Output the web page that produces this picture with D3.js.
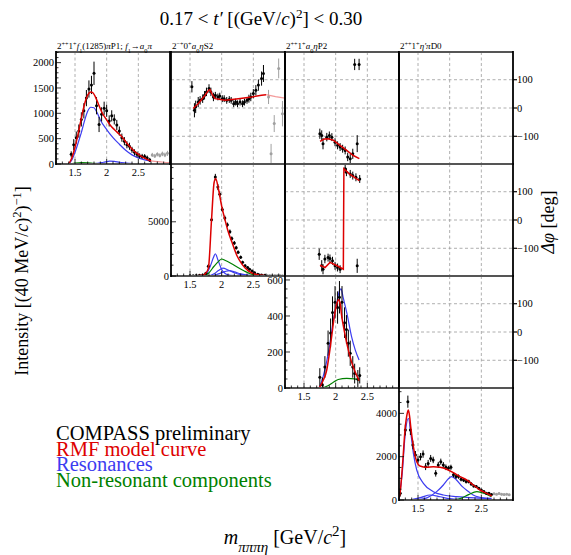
<!DOCTYPE html>
<html>
<head>
<meta charset="utf-8">
<script src="https://cdn.jsdelivr.net/npm/d3@7"></script>
<style>
  body { margin: 0; background: #fff; }
  svg text { font-family: "Liberation Serif", "Times New Roman", "DejaVu Serif", serif; }
</style>
</head>
<body>
<svg id="chart" width="571" height="555"></svg>
<script>
// ---- data ----
const xTicks = [1.5, 2, 2.5];
const xTickLabels = ["1.5", "2", "2.5"];
const phaseTicks = [-100, 0, 100];
const phaseTickLabels = ["100", "0", "\u2212100"];

// 2++1+ f1(1285) pi P1 intensity
const p1Mass = [1.44,1.48,1.52,1.56,1.60,1.64,1.68,1.72,1.76,1.80,1.84,1.88,1.92,1.96,2.00,2.04,2.08,2.12,2.16,2.20,2.24,2.28,2.32,2.36,2.40,2.44,2.48,2.52,2.56,2.60,2.64,2.68];
const p1Int  = [190,380,520,650,880,1050,1300,1480,1560,1790,1150,780,980,1100,1050,850,950,880,770,650,520,450,380,350,280,230,190,160,150,150,120,80];
const p1Err  = [60,110,120,130,140,150,160,170,180,230,170,150,140,130,120,110,110,100,100,90,80,80,70,70,60,60,55,50,50,45,45,40];
const p1GrayMass = [2.72,2.76,2.80,2.84,2.88,2.92,2.96];
const p1GrayInt  = [180,160,190,170,200,180,210];
const p1GrayErr  = [40,40,40,40,45,45,50];
const p1Model = [[1.40,0],[1.45,120],[1.50,330],[1.55,600],[1.60,900],[1.65,1180],[1.70,1360],[1.75,1420],[1.78,1410],[1.82,1330],[1.87,1180],[1.92,1030],[2.00,870],[2.06,760],[2.12,680],[2.18,610],[2.24,540],[2.30,440],[2.36,350],[2.42,270],[2.48,210],[2.55,150],[2.62,100],[2.70,60]];
const p1ModelExt = [[2.70,60],[2.80,45],[2.90,35],[3.00,30]];
const p1Res = [
  [[1.40,0],[1.45,80],[1.50,230],[1.55,420],[1.60,620],[1.65,850],[1.70,1040],[1.75,1120],[1.80,1110],[1.85,1010],[1.90,870],[2.00,680],[2.10,520],[2.20,390],[2.30,270],[2.40,180],[2.50,120],[2.60,80],[2.70,55]],
  [[1.70,0],[1.85,15],[1.95,35],[2.05,55],[2.12,50],[2.20,35],[2.35,15],[2.50,5],[2.70,2]]
];
const p1NonRes = [[1.40,0],[1.50,20],[1.60,30],[1.70,25],[1.80,15],[1.90,8],[2.00,5],[2.20,2],[2.70,0]];

// 2-+0+ a0 eta S2 intensity
const p2Mass = [1.50,1.55,1.60,1.65,1.70,1.75,1.79,1.84,1.90,1.94,1.97,2.01,2.05,2.09,2.13,2.16,2.20,2.23,2.26,2.30,2.33,2.37,2.41,2.44,2.48,2.52,2.57,2.63,2.68];
const p2Int  = [20,30,40,60,90,250,900,5190,9120,8200,7550,6130,5350,4720,4090,3460,3050,2610,2200,1730,1260,950,790,630,470,310,160,100,60];
const p2Err  = [40,40,50,60,70,100,200,250,300,280,260,240,220,210,200,190,180,170,160,150,140,130,120,110,100,90,80,70,60];
const p2GrayMass = [2.72,2.76,2.80,2.84,2.88,2.92,2.96];
const p2GrayInt  = [50,40,45,40,35,40,30];
const p2GrayErr  = [40,40,40,40,40,40,40];
const p2Model = [[1.50,0],[1.70,60],[1.74,200],[1.79,700],[1.84,5190],[1.88,8600],[1.905,9000],[1.95,8000],[2.00,6450],[2.05,5250],[2.10,4150],[2.16,3150],[2.24,1890],[2.32,1100],[2.42,470],[2.53,160],[2.68,40]];
const p2ModelExt = [[2.68,40],[2.80,10],[3.00,0]];
const p2Res = [
  [[1.70,0],[1.76,200],[1.82,900],[1.87,1700],[1.90,2050],[1.94,1500],[2.00,600],[2.05,250],[2.10,100],[2.20,30],[2.40,0]],
  [[1.80,0],[1.88,200],[1.95,500],[2.02,720],[2.10,550],[2.20,300],[2.30,120],[2.45,20],[2.60,0]],
  [[1.85,0],[1.95,200],[2.05,400],[2.12,500],[2.20,380],[2.30,200],[2.45,60],[2.60,0]]
];
const p2NonRes = [[1.72,0],[1.80,300],[1.88,900],[1.95,1350],[2.00,1570],[2.05,1450],[2.15,1150],[2.25,800],[2.35,480],[2.47,160],[2.60,40],[2.70,10]];

// 2++1+ a0 eta P2 intensity
const p3Mass = [1.75,1.79,1.83,1.88,1.92,1.95,1.99,2.03,2.06,2.10,2.14,2.17,2.20,2.23,2.27,2.30,2.35,2.38];
const p3Int  = [60,18,117,249,306,419,476,447,504,476,363,325,249,193,117,80,50,70];
const p3Err  = [50,40,60,70,80,90,90,90,90,90,85,80,75,70,60,55,50,45];
const p3Model = [[1.74,0],[1.80,40],[1.858,98],[1.90,190],[1.937,287],[1.98,400],[2.02,470],[2.045,490],[2.07,470],[2.095,400],[2.14,310],[2.175,249],[2.25,145],[2.32,79],[2.37,41]];
const p3Res = [
  [[1.74,0],[1.80,60],[1.86,150],[1.91,249],[1.96,370],[2.02,476],[2.06,540],[2.085,551],[2.12,500],[2.175,419],[2.25,287],[2.31,210],[2.37,155]]
];
const p3NonRes = [[1.78,0],[1.85,8],[1.92,22],[1.963,32],[2.04,47],[2.175,54],[2.30,51],[2.37,41]];

// 2++1+ eta' pi D0 intensity
const p4Mass = [1.22,1.30,1.34,1.38,1.42,1.46,1.50,1.54,1.58,1.62,1.66,1.70,1.74,1.78,1.82,1.86,1.90,1.94,1.98,2.02,2.06,2.10,2.14,2.18,2.22,2.26,2.30,2.34,2.38,2.42,2.46,2.50,2.54,2.58,2.62,2.66];
const p4Int  = [310,3230,4540,3230,2540,2080,1850,2000,2120,1540,1690,1920,1850,1230,1620,1770,1620,1510,1460,1510,1160,1080,1080,960,920,850,850,740,650,620,540,460,390,310,310,250];
const p4Err  = [150,250,280,230,200,180,170,170,170,160,160,160,150,150,140,140,130,130,120,120,110,110,100,100,90,90,85,80,75,70,65,60,55,50,50,45];
const p4GrayMass = [2.70,2.74,2.78,2.82,2.86,2.90,2.94];
const p4GrayInt  = [290,270,300,260,250,270,240];
const p4GrayErr  = [50,50,50,50,50,50,50];
const p4Model = [[1.20,100],[1.216,309],[1.26,1800],[1.295,3233],[1.33,4000],[1.348,4157],[1.37,3800],[1.385,3386],[1.427,2462],[1.48,1770],[1.53,1570],[1.637,1510],[1.742,1540],[1.848,1510],[1.953,1418],[2.058,1262],[2.163,1078],[2.268,924],[2.374,693],[2.479,462],[2.584,309],[2.663,185]];
const p4Res = [
  [[1.20,50],[1.25,1200],[1.30,3100],[1.348,3773],[1.39,3000],[1.427,2154],[1.48,1385],[1.585,770],[1.742,385],[1.90,230],[2.11,154],[2.40,100],[2.66,77]],
  [[1.50,20],[1.64,100],[1.795,385],[1.90,693],[1.98,980],[2.03,1078],[2.10,950],[2.20,616],[2.30,380],[2.37,230],[2.50,110],[2.66,50]],
  [[1.40,20],[1.55,120],[1.69,230],[1.85,150],[2.00,60],[2.30,10],[2.66,0]]
];
const p4NonRes = [[2.05,0],[2.20,100],[2.30,250],[2.43,385],[2.55,300],[2.66,150]];

// phase differences (deg)
const ph12Mass = [1.53,1.57,1.59,1.63,1.66,1.70,1.73,1.76,1.80,1.83,1.87,1.90,1.94,1.97,2.01,2.04,2.08,2.12,2.15,2.19,2.22,2.25,2.29,2.33,2.36,2.40,2.43,2.46,2.50,2.54,2.58,2.63,2.66];
const ph12Val  = [75,-8,4,21,27,33,45,57,69,57,39,45,39,42,33,33,27,30,27,15,21,15,21,15,21,27,33,39,51,63,81,104,122];
const ph12Err  = [20,25,22,18,15,15,15,15,15,15,15,12,12,12,12,12,12,12,12,12,12,12,12,12,12,12,14,15,16,18,20,25,30];
const ph12GrayMass = [2.74,2.78,2.83,2.90,2.96];
const ph12GrayVal  = [39,-162,-55,140,-20];
const ph12GrayErr  = [25,35,30,35,45];
const ph12Model = [[1.55,-2],[1.632,16],[1.737,45],[1.79,62],[1.816,65],[1.85,48],[1.895,33],[2.053,27],[2.264,33],[2.474,39],[2.63,45],[2.70,47]];
const ph12ModelExt = [[2.70,47],[2.85,40],[3.00,35]];

const ph13Mass = [1.75,1.78,1.80,1.86,1.90,1.94,1.99,2.03,2.07,2.11,2.15,2.19,2.23,2.27,2.30,2.34,2.37];
const ph13Val  = [-91,-97,-126,-103,-97,-103,-121,-132,-138,-144,-150,-173,-179,-162,154,-126,154];
const ph13Err  = [18,18,20,15,14,14,14,14,14,14,14,15,16,18,20,30,20];
const ph13Model = [[1.753,-118],[1.82,-110],[1.884,-109],[1.963,-114],[2.068,-132],[2.174,-150],[2.279,-168],[2.374,-179]];

const ph23Mass = [1.74,1.78,1.80,1.83,1.88,1.91,1.95,1.99,2.03,2.07,2.15,2.17,2.23,2.27,2.32,2.34,2.38];
const ph23Val  = [-121,-162,-174,-138,-133,-136,-144,-162,-168,-174,181,169,163,157,151,-162,145];
const ph23Err  = [20,20,18,15,14,14,14,14,14,14,14,14,14,14,14,25,14];
const ph23Model = [[1.753,-160],[1.832,-168],[1.911,-150],[2.016,-161],[2.121,-174],[2.13,181],[2.216,163],[2.374,139]];

// ---- layout ----
const svg = d3.select("#chart");
const colLeft = [56, 171, 285, 399], colW = 114;
const rowTop = [52, 164, 276, 388], rowH = 112;
const RED = "#dd0000", BLUE = "#3c3cf0", GREEN = "#008000";
const GRIDC = "#9a9a9a";

function richText(parent, parts, size, subRatio) {
  const sr = subRatio || 0.7;
  const t = parent.append("text").attr("font-size", size);
  parts.forEach(p => {
    const [str, kind] = typeof p === "string" ? [p, ""] : p;
    const ts = t.append("tspan").text(str);
    if (kind.includes("i")) ts.attr("font-style", "italic");
    if (kind.includes("^")) ts.attr("baseline-shift", "super").attr("font-size", size * sr);
    if (kind.includes("_")) ts.attr("baseline-shift", "sub").attr("font-size", size * sr);
  });
  return t;
}

function makePanel(r, c, yDomain) {
  const left = colLeft[c], top = rowTop[r];
  const x = d3.scaleLinear([1.2, 3.0], [left, left + colW]);
  const y = d3.scaleLinear(yDomain, [top + rowH, top]);
  const id = "clip" + r + c;
  svg.append("clipPath").attr("id", id)
    .append("rect").attr("x", left).attr("y", top).attr("width", colW).attr("height", rowH);
  const g = svg.append("g");
  const inner = g.append("g").attr("clip-path", `url(#${id})`);
  return { x, y, g, inner, left, top, right: left + colW, bottom: top + rowH };
}

function drawGrid(p, horiz) {
  p.inner.selectAll(null).data(xTicks).join("line")
    .attr("x1", d => p.x(d)).attr("x2", d => p.x(d))
    .attr("y1", p.top).attr("y2", p.bottom)
    .attr("stroke", GRIDC).attr("stroke-width", 0.8).attr("stroke-dasharray", "3,2.5");
  if (horiz) {
    p.inner.selectAll(null).data(phaseTicks).join("line")
      .attr("x1", p.left).attr("x2", p.right)
      .attr("y1", d => p.y(d)).attr("y2", d => p.y(d))
      .attr("stroke", GRIDC).attr("stroke-width", 0.8).attr("stroke-dasharray", "3,2.5");
  }
}

function drawCurve(p, pts, color, curve, width, opacity) {
  const line = d3.line().x(d => p.x(d[0])).y(d => p.y(d[1])).curve(curve || d3.curveMonotoneX);
  p.inner.append("path").datum(pts).attr("d", line)
    .attr("fill", "none").attr("stroke", color)
    .attr("stroke-width", width || 1.4).attr("opacity", opacity == null ? 1 : opacity);
}

function drawPoints(p, mass, val, err, color) {
  const data = mass.map((m, i) => ({ m, v: val[i], e: err[i] }));
  p.inner.append("g").selectAll("line").data(data).join("line")
    .attr("x1", d => p.x(d.m)).attr("x2", d => p.x(d.m))
    .attr("y1", d => p.y(d.v - d.e)).attr("y2", d => p.y(d.v + d.e))
    .attr("stroke", color).attr("stroke-width", 1);
  p.inner.append("g").selectAll("circle").data(data).join("circle")
    .attr("cx", d => p.x(d.m)).attr("cy", d => p.y(d.v)).attr("r", 1.5)
    .attr("fill", color);
}

function drawFrame(p) {
  p.g.append("line").attr("x1", p.left).attr("x2", p.right).attr("y1", p.top).attr("y2", p.top)
    .attr("stroke", "#555").attr("stroke-width", 2);
  p.g.append("line").attr("x1", p.left).attr("x2", p.right).attr("y1", p.bottom).attr("y2", p.bottom)
    .attr("stroke", "#555").attr("stroke-width", 2);
  p.g.append("line").attr("x1", p.left).attr("x2", p.left).attr("y1", p.top - 1).attr("y2", p.bottom + 1)
    .attr("stroke", "#000").attr("stroke-width", 1.8);
  p.g.append("line").attr("x1", p.right).attr("x2", p.right).attr("y1", p.top - 1).attr("y2", p.bottom + 1)
    .attr("stroke", "#000").attr("stroke-width", 1.8);
}

function drawIntensityAxes(p, yMajor, yMinorStep) {
  const minorX = d3.range(12, 31).map(v => v / 10);
  p.g.selectAll(null).data(minorX).join("line")
    .attr("x1", d => p.x(d)).attr("x2", d => p.x(d))
    .attr("y1", p.bottom).attr("y2", d => p.bottom - (xTicks.includes(d) ? 5 : 2.5))
    .attr("stroke", "#000").attr("stroke-width", 0.8);
  p.g.selectAll(null).data(xTicks).join("text")
    .attr("x", d => p.x(d)).attr("y", p.bottom + 12)
    .attr("text-anchor", "middle").attr("font-size", 10.5)
    .text((d, i) => xTickLabels[i]);
  const yMax = p.y.domain()[1];
  const minorY = d3.range(0, yMax, yMinorStep);
  p.g.selectAll(null).data(minorY).join("line")
    .attr("x1", p.left).attr("x2", d => p.left + (yMajor.includes(d) ? 5 : 2.5))
    .attr("y1", d => p.y(d)).attr("y2", d => p.y(d))
    .attr("stroke", "#000").attr("stroke-width", 0.8);
  p.g.selectAll(null).data(yMajor).join("text")
    .attr("x", p.left - 2).attr("y", d => p.y(d)).attr("dy", "0.35em")
    .attr("text-anchor", "end").attr("font-size", 10.5)
    .text(d => d);
}

function drawPhaseAxis(p) {
  p.g.selectAll(null).data(phaseTicks).join("line")
    .attr("x1", p.right).attr("x2", p.right + 4)
    .attr("y1", d => p.y(d)).attr("y2", d => p.y(d))
    .attr("stroke", "#000").attr("stroke-width", 1.2);
  p.g.selectAll(null).data(phaseTicks).join("text")
    .attr("x", p.right + 4).attr("y", d => p.y(d)).attr("dy", "0.35em")
    .attr("font-size", 10.5)
    .text((d, i) => phaseTickLabels[2 - i]);
}

// ---- diagonal intensity panels ----
const diag = [
  { yDom: [0, 2210], major: [0, 500, 1000, 1500, 2000], minor: 100,
    mass: p1Mass, val: p1Int, err: p1Err, gm: p1GrayMass, gv: p1GrayInt, ge: p1GrayErr,
    model: p1Model, ext: p1ModelExt, res: p1Res, non: p1NonRes },
  { yDom: [0, 10330], major: [0, 5000], minor: 1000,
    mass: p2Mass, val: p2Int, err: p2Err, gm: p2GrayMass, gv: p2GrayInt, ge: p2GrayErr,
    model: p2Model, ext: p2ModelExt, res: p2Res, non: p2NonRes },
  { yDom: [0, 622], major: [0, 200, 400, 600], minor: 50,
    mass: p3Mass, val: p3Int, err: p3Err, gm: [], gv: [], ge: [],
    model: p3Model, ext: null, res: p3Res, non: p3NonRes },
  { yDom: [0, 5170], major: [0, 2000, 4000], minor: 500,
    mass: p4Mass, val: p4Int, err: p4Err, gm: p4GrayMass, gv: p4GrayInt, ge: p4GrayErr,
    model: p4Model, ext: null, res: p4Res, non: p4NonRes }
];

diag.forEach((d, i) => {
  const p = makePanel(i, i, d.yDom);
  drawGrid(p, false);
  drawPoints(p, d.gm, d.gv, d.ge, "#a0a0a0");
  d.res.forEach(r => drawCurve(p, r, BLUE, null, 1.2));
  drawCurve(p, d.non, GREEN, null, 1.2);
  drawPoints(p, d.mass, d.val, d.err, "#000");
  if (d.ext) drawCurve(p, d.ext, "#f08080", null, 1.2, 0.8);
  drawCurve(p, d.model, RED, null, 1.5);
  drawFrame(p);
  drawIntensityAxes(p, d.major, d.minor);
});

// ---- off-diagonal phase panels ----
const phasePanels = [
  { r: 0, c: 1, mass: ph12Mass, val: ph12Val, err: ph12Err, gm: ph12GrayMass, gv: ph12GrayVal, ge: ph12GrayErr, model: ph12Model, ext: ph12ModelExt },
  { r: 0, c: 2, mass: ph13Mass, val: ph13Val, err: ph13Err, model: ph13Model },
  { r: 1, c: 2, mass: ph23Mass, val: ph23Val, err: ph23Err, model: ph23Model },
  { r: 0, c: 3 }, { r: 1, c: 3 }, { r: 2, c: 3 }
];

phasePanels.forEach(d => {
  const p = makePanel(d.r, d.c, [-198, 198]);
  drawGrid(p, true);
  if (d.gm) drawPoints(p, d.gm, d.gv, d.ge, "#a0a0a0");
  if (d.ext) drawCurve(p, d.ext, "#f08080", d3.curveLinear, 1.2, 0.8);
  if (d.mass) drawPoints(p, d.mass, d.val, d.err, "#000");
  if (d.model) drawCurve(p, d.model, RED, d3.curveLinear, 1.5);
  drawFrame(p);
  if (d.c === 3) drawPhaseAxis(p);
});

// ---- wave labels ----
const waveLabels = [
  ["2", ["++", "^"], "1", ["+", "^"], ["f", "i"], ["1", "_"], "(1285)", ["π", "i"], "P1; ", ["f", "i"], ["1", "_"], "→", ["a", "i"], ["0", "_"], ["π", "i"]],
  ["2", ["−+", "^"], "0", ["+", "^"], ["a", "i"], ["0", "_"], ["η", "i"], "S2"],
  ["2", ["++", "^"], "1", ["+", "^"], ["a", "i"], ["0", "_"], ["η", "i"], "P2"],
  ["2", ["++", "^"], "1", ["+", "^"], ["η′", "i"], ["π", "i"], "D0"]
];
waveLabels.forEach((parts, i) => {
  richText(svg, parts, 9).attr("x", colLeft[i] + 1).attr("y", 48.5);
});

// ---- titles ----
richText(svg, ["0.17 < ", ["t′", "i"], " [(GeV/", ["c", "i"], ")", ["2", "^"], "] < 0.30"], 19)
  .attr("x", 261).attr("y", 25).attr("text-anchor", "middle");

richText(svg, ["Intensity [(40 MeV/", ["c", "i"], ")", ["2", "^"], ")", ["−1", "^"], "]"], 18)
  .attr("transform", "translate(28,281) rotate(-90)").attr("text-anchor", "middle");

richText(svg, [["Δφ", "i"], " [deg]"], 18)
  .attr("transform", "translate(554,222) rotate(-90)").attr("text-anchor", "middle");

richText(svg, [["m", "i"], ["πππη", "i_"], " [GeV/", ["c", "i"], ["2", "^"], "]"], 20, 0.75)
  .attr("x", 285).attr("y", 544).attr("text-anchor", "middle");

// ---- legend ----
const legendText = ["COMPASS preliminary", "RMF model curve", "Resonances", "Non-resonant components"];
const legendColor = ["#000", RED, BLUE, GREEN];
svg.append("g").selectAll("text").data(legendText).join("text")
  .attr("x", 56).attr("y", (d, i) => 440 + i * 15.7)
  .attr("font-size", 20.5).attr("fill", (d, i) => legendColor[i])
  .text(d => d);
</script>
</body>
</html>
